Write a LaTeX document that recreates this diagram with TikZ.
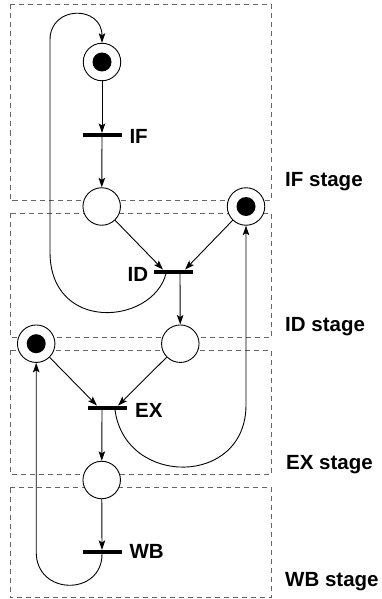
\documentclass[tikz,border=0pt]{standalone}
\usepackage{fontspec}
\setmainfont{Liberation Sans}
\usetikzlibrary{arrows.meta}
\begin{document}
\begin{tikzpicture}[x=1pt, y=-1pt,
  place/.style={circle, draw, fill=white, line width=0.9pt, minimum size=37.5pt, inner sep=0pt},
  bar/.style={rectangle, fill=black, minimum width=39pt, minimum height=4.2pt, inner sep=0pt},
  flow/.style={line width=0.9pt, -{Stealth[length=9.5pt, width=6.5pt, inset=2pt]}},
  stagebox/.style={draw=black!60, dash pattern=on 5pt off 4pt, line width=0.9pt},
  lbl/.style={font=\bfseries\fontsize{20.5}{24}\selectfont, inner sep=0pt}]
\useasboundingbox (0,0) rectangle (382,599);

% pipeline stage frames
\draw[stagebox] (10,4.5)   rectangle (271.5,200);
\draw[stagebox] (10,213)   rectangle (271.5,337);
\draw[stagebox] (10,350)   rectangle (271.5,474);
\draw[stagebox] (10,487.5) rectangle (271.5,597.5);

\node[lbl, anchor=base west] (sif) at (285,186.7) {IF stage};
\node[lbl, anchor=base west] (sid) at (285,331)   {ID stage};
\node[lbl, anchor=base west] (sex) at (286,469.3) {EX stage};
\node[lbl, anchor=base west] (swb) at (285,586.7) {WB stage};

% transitions
\node[bar] (ifb) at (102,135)   {};
\node[bar] (idb) at (173,271.7) {};
\node[bar] (exb) at (107.5,407.7) {};
\node[bar] (wbb) at (102,552)   {};

\node[lbl, anchor=base west] (lif) at (129.3,143.3) {IF};
\node[lbl, anchor=base east] (lid) at (148.3,281.5) {ID};
\node[lbl, anchor=base west] (lex) at (135,417.3)   {EX};
\node[lbl, anchor=base west] (lwb) at (129.3,558.3) {WB};

% connection points on the transition bars
\coordinate (ifin)  at (102,133);
\coordinate (ifout) at (102,137);
\coordinate (idinl) at (163,269.6);
\coordinate (idinr) at (185,269.6);
\coordinate (idout) at (180,273.8);
\coordinate (idback) at (166,273.8);
\coordinate (exinl) at (97,405.6);
\coordinate (exinr) at (118,405.6);
\coordinate (exout) at (102,409.8);
\coordinate (exback) at (115,409.8);
\coordinate (wbin)  at (102,549.9);
\coordinate (wbout) at (102,554.1);

% places
\node[place] (p1) at (102,62)      {};
\node[place] (p2) at (101.7,206.5) {};
\node[place] (p3) at (246,206.5)   {};
\node[place] (p4) at (180.3,343.7) {};
\node[place] (p5) at (36.2,343.7)  {};
\node[place] (p6) at (101.7,480)   {};

% tokens
\foreach \p in {p1,p3,p5} \fill (\p) circle (9.5pt);

% arcs of the net
\draw[flow] (p1) -- (ifin);
\draw[flow] (ifout) -- (p2);
\draw[flow] (p2) -- (idinl);
\draw[flow] (p3) -- (idinr);
\draw[flow] (idout) -- (p4);
\draw[flow] (p5) -- (exinl);
\draw[flow] (p4) -- (exinr);
\draw[flow] (exout) -- (p6);
\draw[flow] (p6) -- (wbin);

% feedback loops
\draw[flow] (idback) .. controls (152,325) and (50,333) .. (50,252)
  -- (50,40) .. controls (50,5) and (102,5) .. (p1.north);
\draw[flow] (exback) .. controls (125,487) and (246,487) .. (246,405)
  -- (p3.south);
\draw[flow] (wbout) .. controls (102,596) and (36.2,596) .. (36.2,552)
  -- (p5.south);

% bars drawn over the loop ends
\node[bar] at (idb) {};
\node[bar] at (exb) {};
\node[bar] at (wbb) {};
\end{tikzpicture}
\end{document}
